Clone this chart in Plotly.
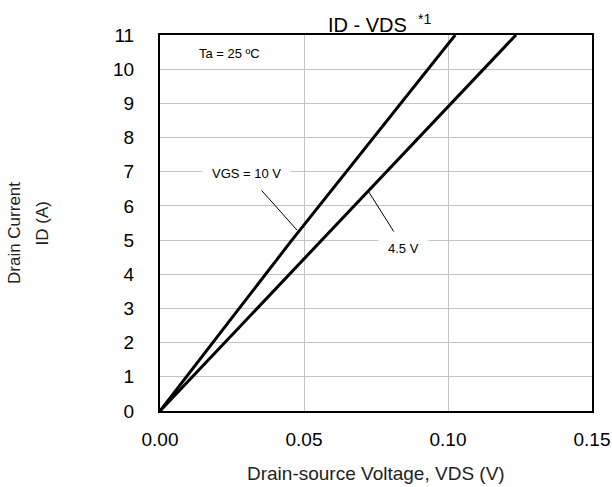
import plotly.graph_objects as go

# Data
id_vgs10 = [0, 5, 11]
vds_vgs10 = [0, 0.0458, 0.1025]
id_vgs45 = [0, 5, 11]
vds_vgs45 = [0, 0.0563, 0.1236]

x_ticks = [0.0, 0.05, 0.10, 0.15]
y_ticks = list(range(0, 12))

FONT = "Liberation Sans, Arial, sans-serif"

fig = go.Figure()
fig.add_trace(go.Scatter(x=vds_vgs10, y=id_vgs10, mode="lines",
                         line=dict(color="black", width=3), name="VGS = 10 V",
                         showlegend=False))
fig.add_trace(go.Scatter(x=vds_vgs45, y=id_vgs45, mode="lines",
                         line=dict(color="black", width=3), name="VGS = 4.5 V",
                         showlegend=False))

# pointer lines for labels
fig.add_annotation(x=0.0476, y=5.29, ax=0.0336, ay=6.61, xref="x", yref="y",
                   axref="x", ayref="y", showarrow=True, arrowhead=0,
                   arrowwidth=1, arrowcolor="black", text="")
fig.add_annotation(x=0.0724, y=6.42, ax=0.0823, ay=5.10, xref="x", yref="y",
                   axref="x", ayref="y", showarrow=True, arrowhead=0,
                   arrowwidth=1, arrowcolor="black", text="")

fig.add_annotation(x=0.0301, y=6.95, text="VGS = 10 V", showarrow=False,
                   bgcolor="white", font=dict(family=FONT, size=13, color="black"),
                   borderpad=9)
fig.add_annotation(x=0.0846, y=4.76, text="4.5 V", showarrow=False,
                   bgcolor="white", font=dict(family=FONT, size=13, color="black"),
                   borderpad=9)
fig.add_annotation(x=0.0243, y=10.47, text="Ta = 25 ºC", showarrow=False,
                   font=dict(family=FONT, size=13, color="black"))

# title
fig.add_annotation(x=0.5, y=1, xref="paper", yref="paper", xanchor="center",
                   yanchor="middle", yshift=12, xshift=3,
                   text="ID - VDS&nbsp;&nbsp;<sup>*1</sup>", showarrow=False,
                   font=dict(family=FONT, size=20, color="black"))

# axis titles
fig.add_annotation(x=0, y=0.5, xref="paper", yref="paper", xanchor="center",
                   yanchor="middle", xshift=-146, yshift=-10,
                   text="Drain Current", showarrow=False, textangle=-90,
                   font=dict(family=FONT, size=17, color="#222222"))
fig.add_annotation(x=0, y=0.5, xref="paper", yref="paper", xanchor="center",
                   yanchor="middle", xshift=-118.5, yshift=-1,
                   text="ID (A)", showarrow=False, textangle=-90,
                   font=dict(family=FONT, size=17, color="#222222"))
fig.add_annotation(x=0.5, y=0, xref="paper", yref="paper", xanchor="center",
                   yanchor="middle", yshift=-62,
                   text="Drain-source Voltage, VDS (V)", showarrow=False,
                   font=dict(family=FONT, size=19, color="#222222"))

fig.update_layout(
    width=612, height=487,
    margin=dict(l=160, r=20, t=35, b=76),
    paper_bgcolor="white", plot_bgcolor="white",
    font=dict(family=FONT, color="black"),
    xaxis=dict(range=[0, 0.15], tickvals=x_ticks, tickformat=".2f",
               showgrid=True, gridcolor="#c4c4c4", gridwidth=1,
               showline=True, linecolor="black", linewidth=2, mirror=True,
               ticks="outside", ticklen=10, tickcolor="rgba(0,0,0,0)",
               tickfont=dict(family=FONT, size=19, color="black"),
               zeroline=False, automargin=False),
    yaxis=dict(range=[0, 11], tickvals=y_ticks,
               showgrid=True, gridcolor="#c4c4c4", gridwidth=1,
               showline=True, linecolor="black", linewidth=2, mirror=True,
               ticks="outside", ticklen=20, tickcolor="rgba(0,0,0,0)",
               tickfont=dict(family=FONT, size=19, color="black"),
               zeroline=False, automargin=False),
)

fig.write_html("out.html", config={"displayModeBar": False},
               post_script="document.body.style.margin='0';document.body.style.overflow='hidden';")
